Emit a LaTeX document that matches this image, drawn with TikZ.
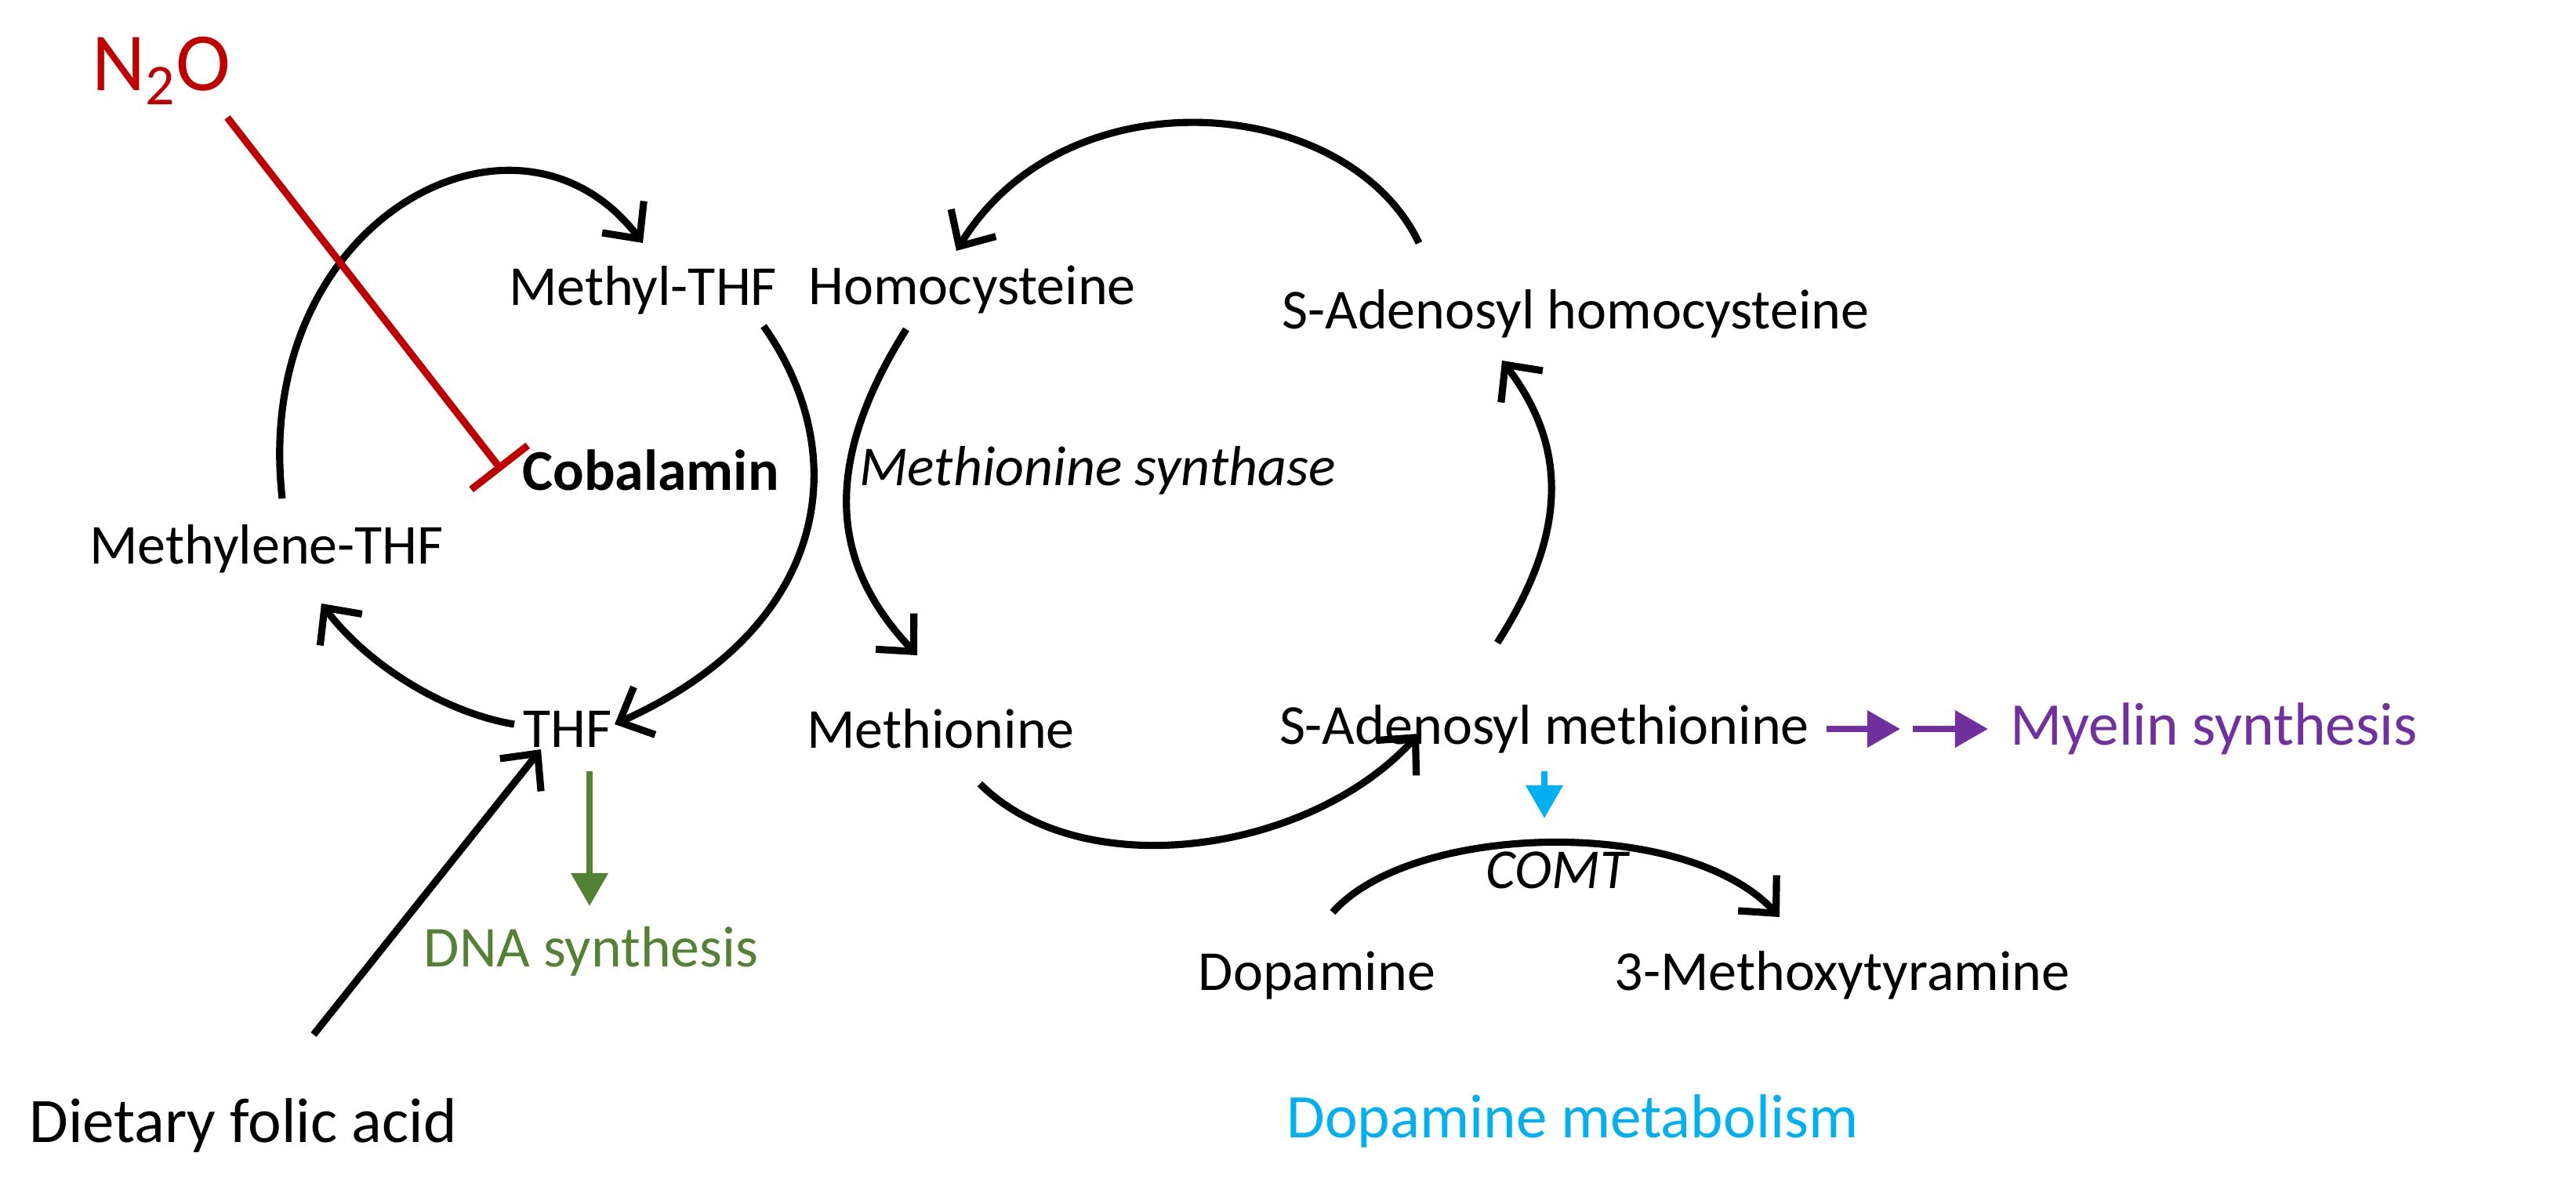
\documentclass[tikz,border=0pt]{standalone}
\usepackage{fontspec}
\setmainfont{Carlito}
\usetikzlibrary{arrows.meta}
\definecolor{nred}{RGB}{192,0,0}
\definecolor{ngreen}{RGB}{84,130,53}
\definecolor{ncyan}{RGB}{0,176,240}
\definecolor{npurple}{RGB}{112,48,160}
\begin{document}
\begin{tikzpicture}[x=0.02cm,y=-0.02cm,
  lbl/.style={font=\fontsize{20.5}{25}\selectfont, inner sep=2pt},
  cyc/.style={line width=2.6pt, -{Straight Barb[length=10pt,width=19pt,line width=2.6pt]}},
  col/.style={line width=2.4pt, -{Triangle[length=12pt,width=13pt]}}]
\useasboundingbox (0,0) rectangle (1643,765);
\node[lbl,text=nred,font=\fontsize{30}{34}\selectfont] (n2o) at (103,45) {N\textsubscript{2}O};
\node[lbl,font=\fontsize{21}{25}\selectfont\bfseries] (cob) at (415,300) {Cobalamin};
\node[lbl] (mthf) at (410,185) {Methyl-THF};
\node[lbl] (hcy) at (620,185) {Homocysteine};
\node[lbl] (sah) at (1005,200) {S-Adenosyl homocysteine};
\node[lbl,font=\fontsize{20.5}{25}\selectfont\itshape] (ms) at (700,300) {Methionine synthase};
\node[lbl] (mlthf) at (170,350) {Methylene-THF};
\node[lbl] (thf) at (362,465) {THF};
\node[lbl] (met) at (600,465) {Methionine};
\node[lbl] (sam) at (985,465) {S-Adenosyl methionine};
\node[lbl,text=npurple,font=\fontsize{22}{26}\selectfont] (mye) at (1412,465) {Myelin synthesis};
\node[lbl,text=ngreen,font=\fontsize{21}{25}\selectfont] (dna) at (377,607) {DNA synthesis};
\node[lbl,font=\fontsize{23}{27}\selectfont] (dfa) at (155,718) {Dietary folic acid};
\node[lbl] (dop) at (840,622) {Dopamine};
\node[lbl] (mxt) at (1175,622) {3-Methoxytyramine};
\node[lbl,font=\fontsize{20.5}{25}\selectfont\itshape] (comt) at (993,555) {COMT};
\node[lbl,text=ncyan,font=\fontsize{22.5}{27}\selectfont] (dm) at (1003,715) {Dopamine metabolism};
% free-end coordinates
\coordinate (a1) at (180,318); \coordinate (a2) at (410,155);
\coordinate (b1) at (487,208); \coordinate (b2) at (392,462);
\coordinate (c1) at (328,462); \coordinate (c2) at (205,385);
\coordinate (d1) at (578,210); \coordinate (d2) at (585,418);
\coordinate (e1) at (625,500); \coordinate (e2) at (905,468);
\coordinate (f1) at (955,410); \coordinate (f2) at (958,230);
\coordinate (g1) at (905,155); \coordinate (g2) at (610,160);
\coordinate (h1) at (850,582); \coordinate (h2) at (1135,585);
\coordinate (inh) at (320,300);
\coordinate (n2ostart) at (145,75);
\coordinate (fa) at (200,660); \coordinate (thfin) at (345,478);
\coordinate (gs) at (376,492); \coordinate (ge) at (376,578);
\coordinate (cs) at (985,492); \coordinate (ce) at (985,522);
\coordinate (p1) at (1165,465); \coordinate (p2) at (1212,465);
\coordinate (p3) at (1220,465); \coordinate (p4) at (1268,465);
\draw[cyc] (a1) .. controls (160,140) and (330,50) .. (a2);
\draw[cyc] (b1) .. controls (545,290) and (530,400) .. (b2);
\draw[cyc] (c1) .. controls (285,455) and (235,425) .. (c2);
\draw[cyc] (d1) .. controls (515,310) and (540,370) .. (d2);
\draw[cyc] (e1) .. controls (690,565) and (835,545) .. (e2);
\draw[cyc] (f1) .. controls (1000,340) and (1000,285) .. (f2);
\draw[cyc] (g1) .. controls (860,60) and (680,45) .. (g2);
\draw[cyc] (h1) .. controls (900,525) and (1075,520) .. (h2);
\draw[cyc] (fa) -- (thfin);
\draw[line width=2.6pt,nred,-{Bar[width=26pt,line width=2.6pt]}] (n2ostart) -- (inh);
\draw[col,ngreen] (gs) -- (ge);
\draw[col,ncyan] (cs) -- (ce);
\draw[col,npurple] (p1) -- (p2);
\draw[col,npurple] (p3) -- (p4);
\end{tikzpicture}
\end{document}
